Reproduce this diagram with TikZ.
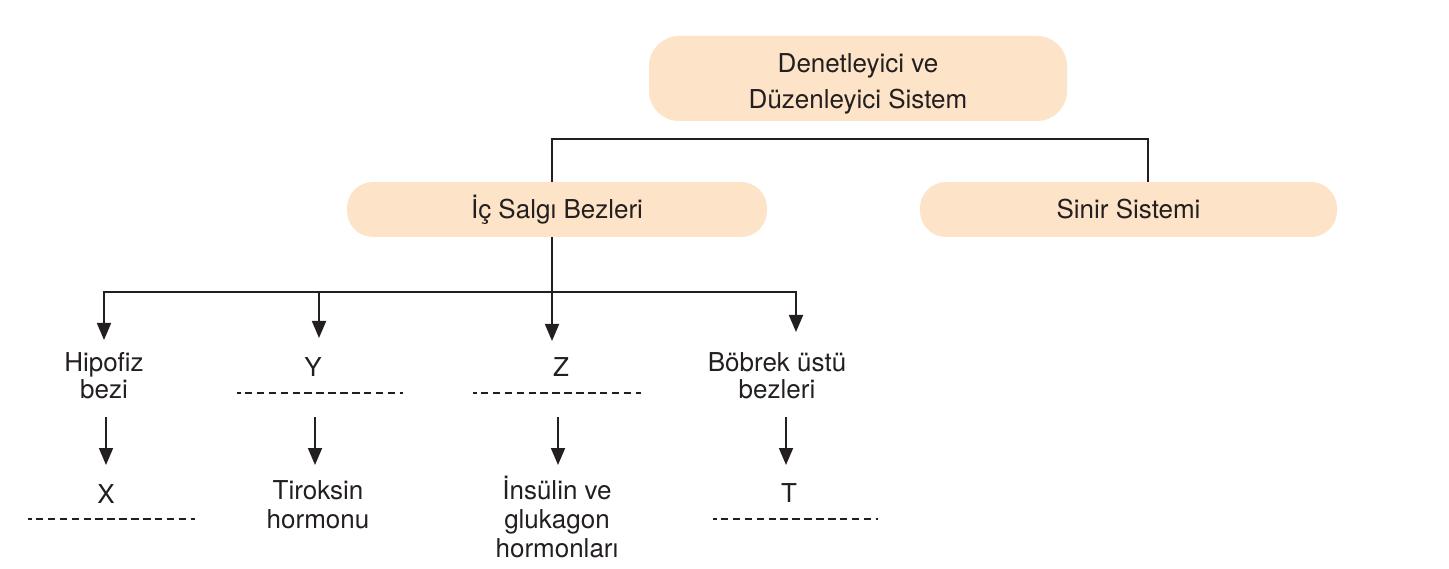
\documentclass[tikz,border=0pt]{standalone}
\usepackage{fontspec}
\setmainfont{TeX Gyre Heros}
\usetikzlibrary{arrows.meta}
\definecolor{boxfill}{RGB}{253,227,199}
\definecolor{ink}{RGB}{35,31,32}
\begin{document}
\begin{tikzpicture}[x=1pt,y=-1pt,
  every node/.style={text=ink,font=\fontsize{26}{28}\selectfont},
  pill/.style={fill=boxfill,draw=none,rounded corners=26pt,minimum width=420pt,minimum height=55pt,inner sep=0pt,anchor=center},
  topbox/.style={fill=boxfill,draw=none,rounded corners=30pt,minimum width=418pt,minimum height=85pt,inner sep=0pt,anchor=center},
  lbl/.style={align=center,inner sep=0pt,anchor=base},
  lbl3/.style={lbl,font=\fontsize{26}{29}\selectfont},
  conn/.style={draw=ink,line width=1.8pt},
  arr/.style={conn,-{Triangle[width=14pt,length=17pt]}},
  blank/.style={draw=ink,line width=2.8pt,dash pattern=on 7.5pt off 4.4pt,dash phase=4pt}]
\useasboundingbox (0,0) rectangle (1449,569);
% boxes
\node[topbox] (top) at (858,78.5) {};
\node[lbl,font=\fontsize{26}{36}\selectfont] (toptext) at (858,109) {Denetleyici ve\\Düzenleyici Sistem};
\node[pill] (ic) at (557,209.5) {İç Salgı Bezleri};
\node[pill,minimum width=417pt] (sinir) at (1128.5,209.5) {Sinir Sistemi};
% bracket
\coordinate (bl) at (552,139);
\coordinate (br) at (1148,139);
\draw[conn] (ic.north -| bl) -- (bl) -- (br) -- (sinir.north -| br);
% labels level 1
\node[lbl] (hip) at (104,399) {Hipofiz\\bezi};
\node[lbl] (y) at (313,377) {Y};
\node[lbl] (z) at (561,377) {Z};
\node[lbl] (bob) at (777,399) {Böbrek üstü\\bezleri};
% labels level 2
\node[lbl] (x) at (106,503) {X};
\node[lbl3] (tir) at (318,528) {Tiroksin\\hormonu};
\node[lbl3] (ins) at (557,557) {İnsülin ve\\glukagon\\hormonları};
\node[lbl] (t) at (789,502) {T};
% bus and arrows
\coordinate (t1) at (104,340);
\coordinate (t2) at (319,338);
\coordinate (t3) at (552,341);
\coordinate (t4) at (796,332);
\coordinate (bus) at (552,292);
\draw[conn] (ic.south -| bus) -- (bus);
\draw[arr] (bus) -| (t1);
\draw[arr] (bus) -| (t4);
\draw[arr] (bus -| t2) -- (t2);
\draw[arr] (bus) -- (t3);
% second arrows
\coordinate (s1) at (106,417); \coordinate (e1) at (106,465);
\coordinate (s2) at (315,417); \coordinate (e2) at (315,465);
\coordinate (s3) at (558,417); \coordinate (e3) at (558,465);
\coordinate (s4) at (786,417); \coordinate (e4) at (786,465);
\draw[arr] (s1) -- (e1);
\draw[arr] (s2) -- (e2);
\draw[arr] (s3) -- (e3);
\draw[arr] (s4) -- (e4);
% blanks
\draw[blank] (237,393) -- (403,393);
\draw[blank] (473,393) -- (641,393);
\draw[blank] (28,519) -- (195,519);
\draw[blank] (713,519) -- (878,519);
\end{tikzpicture}
\end{document}
